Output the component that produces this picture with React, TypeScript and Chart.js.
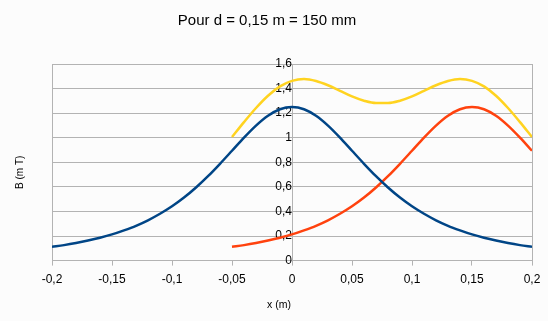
import React, { useEffect, useRef } from "react";
import { Chart, registerables } from "chart.js";

Chart.register(...registerables);

const TITLE = "Pour d = 0,15 m = 150 mm";
const X_TITLE = "x (m)";
const Y_TITLE = "B (m T)";

// x positions (m)
const X_FULL = [
  -0.2, -0.19, -0.18, -0.17, -0.16, -0.15, -0.14, -0.13, -0.12, -0.11, -0.1,
  -0.09, -0.08, -0.07, -0.06, -0.05, -0.04, -0.03, -0.02, -0.01, 0,
  0.01, 0.02, 0.03, 0.04, 0.05, 0.06, 0.07, 0.08, 0.09, 0.1,
  0.11, 0.12, 0.13, 0.14, 0.15, 0.16, 0.17, 0.18, 0.19, 0.2,
];
const X_RIGHT = [
  -0.05, -0.04, -0.03, -0.02, -0.01, 0,
  0.01, 0.02, 0.03, 0.04, 0.05, 0.06, 0.07, 0.08, 0.09, 0.1,
  0.11, 0.12, 0.13, 0.14, 0.15, 0.16, 0.17, 0.18, 0.19, 0.2,
];

// B (mT) – coil centred at x = 0 (blue)
const B_COIL1 = [
  0.112, 0.126, 0.143, 0.163, 0.186, 0.213, 0.246, 0.283, 0.328, 0.381, 0.442,
  0.513, 0.595, 0.687, 0.788, 0.894, 1.001, 1.099, 1.179, 1.232, 1.25,
  1.232, 1.179, 1.099, 1.001, 0.894, 0.788, 0.687, 0.595, 0.513, 0.442,
  0.381, 0.328, 0.283, 0.246, 0.213, 0.186, 0.163, 0.143, 0.126, 0.112,
];
// B (mT) – coil centred at x = 0.15 (orange)
const B_COIL2 = [
  0.112, 0.126, 0.143, 0.163, 0.186, 0.213,
  0.246, 0.283, 0.328, 0.381, 0.442, 0.513, 0.595, 0.687, 0.788, 0.894,
  1.001, 1.099, 1.179, 1.232, 1.25, 1.232, 1.179, 1.099, 1.001, 0.894,
];
// B (mT) – total (yellow)
const B_TOTAL = [
  1.006, 1.127, 1.242, 1.342, 1.418, 1.463,
  1.478, 1.462, 1.427, 1.382, 1.336, 1.301, 1.282, 1.282, 1.301, 1.336,
  1.382, 1.427, 1.462, 1.478, 1.463, 1.418, 1.342, 1.242, 1.127, 1.006,
];

const BLUE = "#004586";
const ORANGE = "#ff420e";
const YELLOW = "#ffd320";
const GRID = "#b3b3b3";
const FONT = "'Liberation Sans', Arial, sans-serif";

const fmt = (v: number) => String(Math.round(v * 1000) / 1000).replace(".", ",");

const pts = (xs: number[], ys: number[]) => xs.map((x, i) => ({ x, y: ys[i] }));

const textPlugin = {
  id: "texts",
  beforeDraw(chart: any) {
    const c = chart.ctx;
    c.save();
    c.fillStyle = "#fcfcfc";
    c.fillRect(0, 0, chart.width, chart.height);
    c.restore();
  },
  afterDraw(chart: any) {
    const c = chart.ctx;
    const a = chart.chartArea;
    c.save();
    c.fillStyle = "#000";
    c.textAlign = "center";
    c.textBaseline = "alphabetic";
    c.font = `15px ${FONT}`;
    c.fillText(TITLE, 267, 25);
    c.font = `10.5px ${FONT}`;
    c.textBaseline = "middle";
    c.fillText(X_TITLE, (a.left + a.right) / 2 - 13, 305);
    c.translate(20, (a.top + a.bottom) / 2 + 10);
    c.rotate(-Math.PI / 2);
    c.font = `10px ${FONT}`;
    c.fillText(Y_TITLE, 0, 0);
    c.restore();
  },
};

export default function App() {
  const ref = useRef<HTMLCanvasElement>(null);
  useEffect(() => {
    const chart = new Chart(ref.current!, {
      type: "line",
      data: {
        datasets: [
          { data: pts(X_FULL, B_COIL1), borderColor: BLUE },
          { data: pts(X_RIGHT, B_COIL2), borderColor: ORANGE },
          { data: pts(X_RIGHT, B_TOTAL), borderColor: YELLOW },
        ].map((d) => ({
          ...d,
          borderWidth: 2.5,
          pointRadius: 0,
          fill: false,
          cubicInterpolationMode: "monotone" as const,
        })),
      },
      plugins: [textPlugin],
      options: {
        animation: false,
        responsive: false,
        devicePixelRatio: 1,
        layout: { padding: { left: 52, right: 16, top: 64, bottom: 27 } },
        plugins: {
          legend: { display: false },
          title: { display: false },
          tooltip: { enabled: false },
        },
        scales: {
          x: {
            type: "linear",
            min: -0.2,
            max: 0.2,
            ticks: {
              stepSize: 0.05,
              autoSkip: false,
              maxRotation: 0,
              padding: 7,
              color: "#000",
              font: { family: FONT, size: 12 },
              callback: (v: any) => fmt(Number(v)),
            },
            grid: {
              color: (ctx: any) =>
                ctx.tick && Math.abs(ctx.tick.value) > 0.199 ? GRID : "rgba(0,0,0,0)",
              tickColor: GRID,
              tickLength: 5,
              lineWidth: 1,
            },
            border: { display: true, color: GRID },
          },
          y: {
            type: "linear",
            position: { x: 0 } as any,
            min: 0,
            max: 1.6,
            ticks: {
              stepSize: 0.2,
              padding: 8,
              color: "#000",
              font: { family: FONT, size: 12 },
              callback: (v: any) => fmt(Number(v)),
            },
            grid: { color: GRID, drawTicks: false, lineWidth: 1 },
            border: { display: true, color: GRID },
          },
        },
      },
    });
    return () => chart.destroy();
  }, []);
  return (
    <div style={{ position: "fixed", left: 0, top: 0, width: 548, height: 321, background: "#fcfcfc" }}>
      <canvas ref={ref} width={548} height={321} />
    </div>
  );
}
